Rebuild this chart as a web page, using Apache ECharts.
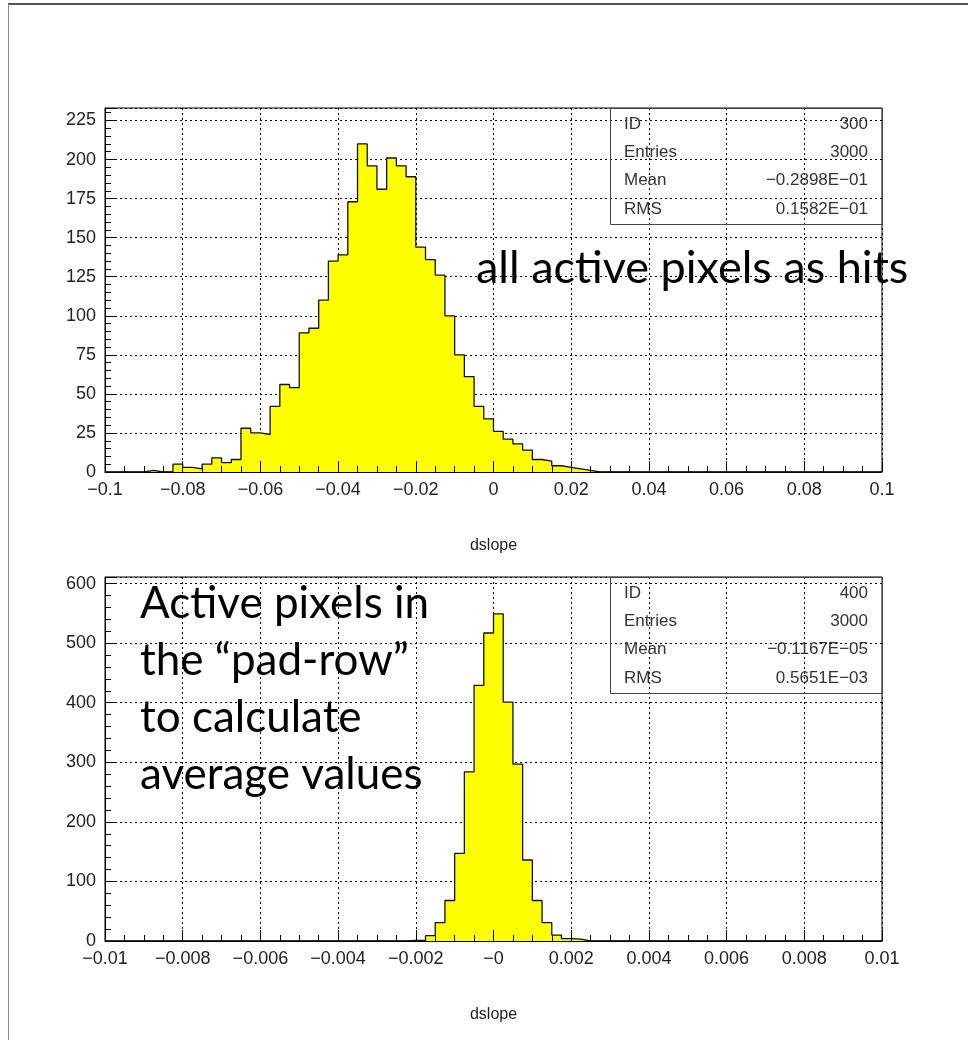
<!DOCTYPE html>
<html>
<head>
<meta charset="utf-8">
<script src="https://cdn.jsdelivr.net/npm/echarts@6/dist/echarts.min.js"></script>
<style>
  html, body { margin: 0; padding: 0; background: #ffffff; }
  #chart { width: 968px; height: 1040px; }
</style>
</head>
<body>
<div id="chart"></div>
<script>
// ---- histogram 300: dslope, all active pixels as hits (80 bins over [-0.1, 0.1]) ----
const rangeTop = [-0.1, 0.1];
const countsTop = [
  0, 0, 0, 0, 1, 0, 0, 5, 3, 2,
  5, 9, 6, 8, 28, 25, 24, 42, 56, 54,
  89, 92, 110, 135, 139, 173, 210, 196, 181, 201,
  196, 189, 144, 136, 126, 100, 75, 61, 42, 34,
  26, 21, 18, 14, 8, 7, 4, 3, 2, 1,
  0, 0, 0, 0, 0, 0, 0, 0, 0, 0,
  0, 0, 0, 0, 0, 0, 0, 0, 0, 0,
  0, 0, 0, 0, 0, 0, 0, 0, 0, 0
];
const xTickLabelsTop = ['\u22120.1', '\u22120.08', '\u22120.06', '\u22120.04', '\u22120.02', '0',
                        '0.02', '0.04', '0.06', '0.08', '0.1'];
const statsLabelsTop = ['ID', 'Entries', 'Mean', 'RMS'];
const statsValuesTop = ['300', '3000', '\u22120.2898E\u221201', '0.1582E\u221201'];

// ---- histogram 400: dslope, pad-row averaged pixels (80 bins over [-0.01, 0.01]) ----
const rangeBottom = [-0.01, 0.01];
const countsBottom = [
  0, 0, 0, 0, 0, 0, 0, 0, 0, 0,
  0, 0, 0, 0, 0, 0, 0, 0, 0, 0,
  0, 0, 0, 0, 0, 0, 0, 0, 0, 0,
  0, 1, 1, 9, 31, 68, 147, 284, 429, 517,
  549, 401, 297, 136, 68, 31, 10, 4, 3, 0,
  0, 0, 0, 0, 0, 0, 0, 0, 0, 0,
  0, 0, 0, 0, 0, 0, 0, 0, 0, 0,
  0, 0, 0, 0, 0, 0, 0, 0, 0, 0
];
const xTickLabelsBottom = ['\u22120.01', '\u22120.008', '\u22120.006', '\u22120.004', '\u22120.002', '\u22120',
                           '0.002', '0.004', '0.006', '0.008', '0.01'];
const statsLabelsBottom = ['ID', 'Entries', 'Mean', 'RMS'];
const statsValuesBottom = ['400', '3000', '\u22120.1167E\u221205', '0.5651E\u221203'];

const xTitle = 'dslope';
const noteTop = 'all active pixels as hits';
const noteBottom = 'Active pixels in\nthe \u201cpad-row\u201d\nto calculate\naverage values';

// ---- layout / style ----
const FONT = '"Liberation Sans", Arial, sans-serif';
const NOTE_FONT = 'Lato, "Open Sans", sans-serif';
const plotLeft = 105, plotWidth = 777, plotHeight = 364;
const topY = 108, bottomY = 577;
const yMaxTop = 233, yMaxBottom = 611;

// Step outline points: one point at each bin's low edge, closed at the upper edge.
function histPoints(counts, range) {
  const w = (range[1] - range[0]) / counts.length;
  const pts = counts.map((c, i) => [range[0] + i * w, c]);
  pts.push([range[1], 0]);
  return pts;
}

function xAxisFor(gridIndex, range, labels) {
  const step = (range[1] - range[0]) / (labels.length - 1);
  return {
    gridIndex, type: 'value', min: range[0], max: range[1], interval: step, z: 3,
    axisLine: { show: true, onZero: false, lineStyle: { color: '#000', width: 1 } },
    axisTick: { show: true, inside: true, length: 11, lineStyle: { color: '#000' } },
    minorTick: { show: true, splitNumber: 4, length: 6, lineStyle: { color: '#000' } },
    splitLine: { show: true, lineStyle: { color: '#000', width: 1, type: [2, 3] } },
    axisLabel: {
      margin: 9, fontFamily: FONT, fontSize: 18, color: '#222',
      formatter: v => labels[Math.round((v - range[0]) / step)] ?? ''
    },
    name: xTitle, nameLocation: 'middle', nameGap: 66,
    nameTextStyle: { fontFamily: FONT, fontSize: 16, color: '#222' }
  };
}

function yAxesFor(gridIndex, max, major, minor) {
  return [
    {
      gridIndex, type: 'value', min: 0, max, interval: major, z: 3, position: 'left',
      axisLine: { show: true, onZero: false, lineStyle: { color: '#000', width: 1 } },
      axisTick: { show: true, inside: true, length: 11, lineStyle: { color: '#000' } },
      splitLine: { show: true, lineStyle: { color: '#000', width: 1, type: [2, 3] } },
      axisLabel: {
        margin: 9, fontFamily: FONT, fontSize: 18, color: '#222',
        formatter: v => (Math.abs(v / major - Math.round(v / major)) < 1e-6 ? String(v) : '')
      }
    },
    {
      gridIndex, type: 'value', min: 0, max, interval: minor, z: 3, position: 'left', offset: 0,
      axisLine: { show: false, onZero: false },
      axisTick: { show: true, inside: true, length: 6, lineStyle: { color: '#000' } },
      splitLine: { show: false },
      axisLabel: { show: false }
    }
  ];
}

function statsBox(top, labels, values) {
  const rows = [16, 44.5, 72.5, 101];
  const left = 610, right = plotLeft + plotWidth;
  const items = [{
    type: 'rect', z: 10,
    shape: { x: left + 0.5, y: top + 0.5, width: right - left, height: 116 },
    style: { fill: 'none', stroke: '#444', lineWidth: 1 }
  }];
  labels.forEach((t, i) => {
    items.push({ type: 'text', z: 10, x: left + 14, y: top + rows[i],
      style: { text: t, font: '17px ' + FONT, fill: '#333', textVerticalAlign: 'middle', textAlign: 'left' } });
    items.push({ type: 'text', z: 10, x: right - 14, y: top + rows[i],
      style: { text: values[i], font: '17px ' + FONT, fill: '#333', textVerticalAlign: 'middle', textAlign: 'right' } });
  });
  return items;
}

const chart = echarts.init(document.getElementById('chart'), null, { renderer: 'canvas' });

chart.setOption({
  animation: false,
  backgroundColor: '#ffffff',
  grid: [
    { left: plotLeft, top: topY, width: plotWidth, height: plotHeight,
      show: true, borderColor: '#000', borderWidth: 1, backgroundColor: 'transparent' },
    { left: plotLeft, top: bottomY, width: plotWidth, height: plotHeight,
      show: true, borderColor: '#000', borderWidth: 1, backgroundColor: 'transparent' }
  ],
  xAxis: [
    xAxisFor(0, rangeTop, xTickLabelsTop),
    xAxisFor(1, rangeBottom, xTickLabelsBottom)
  ],
  yAxis: [
    ...yAxesFor(0, yMaxTop, 25, 5),
    ...yAxesFor(1, yMaxBottom, 100, 20)
  ],
  series: [
    {
      type: 'line', xAxisIndex: 0, yAxisIndex: 0, step: 'end', symbol: 'none',
      data: histPoints(countsTop, rangeTop),
      lineStyle: { color: '#111', width: 1.3 },
      areaStyle: { color: '#ffff00', opacity: 1, origin: 'start' }
    },
    {
      type: 'line', xAxisIndex: 1, yAxisIndex: 2, step: 'end', symbol: 'none',
      data: histPoints(countsBottom, rangeBottom),
      lineStyle: { color: '#111', width: 1.3 },
      areaStyle: { color: '#ffff00', opacity: 1, origin: 'start' }
    }
  ],
  graphic: [
    // page frame
    { type: 'line', z: 10, shape: { x1: 8, y1: 4, x2: 968, y2: 4 },
      style: { stroke: '#555', lineWidth: 2 } },
    { type: 'line', z: 10, shape: { x1: 8.5, y1: 4, x2: 8.5, y2: 1040 },
      style: { stroke: '#888', lineWidth: 1 } },
    ...statsBox(topY, statsLabelsTop, statsValuesTop),
    ...statsBox(bottomY, statsLabelsBottom, statsValuesBottom),
    { type: 'text', z: 12, x: 476, y: 268,
      style: { text: noteTop, font: '45px ' + NOTE_FONT, fill: '#000',
               textVerticalAlign: 'middle', textAlign: 'left' } },
    { type: 'text', z: 12, x: 140, y: 575,
      style: { text: noteBottom, font: '44px ' + NOTE_FONT, fill: '#000',
               lineHeight: 57, textVerticalAlign: 'top', textAlign: 'left' } }
  ]
});
</script>
</body>
</html>
